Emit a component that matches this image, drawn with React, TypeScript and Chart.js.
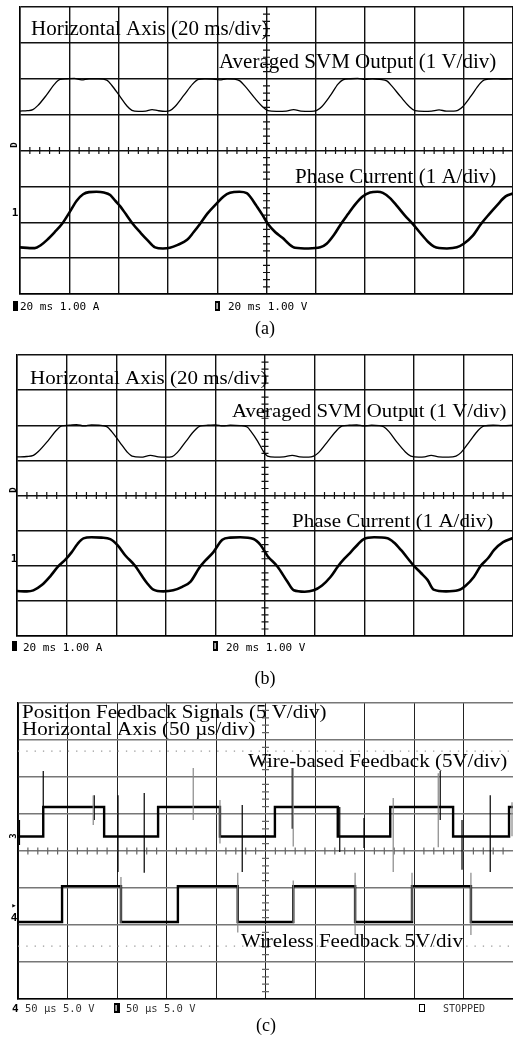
import React, { useEffect, useRef } from "react";
import { Chart, registerables } from "chart.js";
Chart.register(...registerables);

// ---------------- data (all values in scope divisions) ----------------
const xDivs = [0, 10];
const yDivs = [-4, 4];

// panel (a)
const svmA: [number, number][] = [
  [0, 1.1], [0.15, 1.11], [0.26, 1.14], [0.36, 1.25], [0.54, 1.55], [0.7, 1.85], [0.81, 1.98], [0.95, 2.0], [1.1, 2.01], [1.25, 1.97], [1.4, 2.0], [1.6, 2.0], [1.76, 1.96],
  [1.86, 1.82], [2.02, 1.52], [2.17, 1.24], [2.27, 1.12], [2.4, 1.09], [2.55, 1.1], [2.68, 1.14], [2.8, 1.11], [2.95, 1.09], [3.04, 1.11],
  [3.14, 1.22], [3.33, 1.55], [3.5, 1.85], [3.62, 1.98], [3.75, 2.0], [3.9, 1.99], [4.05, 1.97], [4.2, 2.0], [4.35, 1.99], [4.46, 1.94],
  [4.56, 1.8], [4.75, 1.48], [4.92, 1.22], [5.03, 1.11], [5.2, 1.09], [5.4, 1.1], [5.55, 1.14], [5.7, 1.1], [5.9, 1.09], [6.02, 1.12],
  [6.12, 1.22], [6.29, 1.52], [6.45, 1.85], [6.55, 1.97], [6.7, 2.0], [6.85, 2.01], [7.0, 1.98], [7.15, 2.0], [7.3, 1.98], [7.44, 1.94],
  [7.54, 1.8], [7.72, 1.5], [7.9, 1.22], [8.01, 1.11], [8.2, 1.09], [8.35, 1.1], [8.5, 1.13], [8.65, 1.1], [8.8, 1.1], [8.88, 1.12],
  [8.98, 1.22], [9.15, 1.52], [9.32, 1.85], [9.42, 1.97], [9.6, 2.0], [9.8, 1.99], [10, 2.0],
];
const curA: [number, number][] = [
  [0, -2.7], [0.2, -2.72], [0.3, -2.72], [0.42, -2.64], [0.55, -2.49], [0.7, -2.28], [0.85, -2.05], [1.01, -1.71], [1.15, -1.4], [1.28, -1.22],
  [1.4, -1.16], [1.55, -1.15], [1.7, -1.17], [1.83, -1.24], [1.93, -1.4], [2.03, -1.55], [2.15, -1.78], [2.29, -2.05], [2.45, -2.3], [2.58, -2.49],
  [2.74, -2.7], [2.9, -2.73], [3.04, -2.71], [3.2, -2.63], [3.39, -2.49], [3.52, -2.28], [3.65, -2.05], [3.8, -1.76], [4.0, -1.46], [4.13, -1.28],
  [4.26, -1.18], [4.45, -1.15], [4.6, -1.19], [4.67, -1.29], [4.8, -1.55], [4.92, -1.8], [5.03, -2.05], [5.18, -2.28], [5.33, -2.44], [5.45, -2.6],
  [5.58, -2.71], [5.85, -2.73], [6.09, -2.7], [6.22, -2.6], [6.37, -2.35], [6.51, -2.05], [6.65, -1.78], [6.8, -1.5], [6.95, -1.28], [7.1, -1.17],
  [7.25, -1.15], [7.36, -1.18], [7.5, -1.32], [7.65, -1.55], [7.8, -1.8], [7.97, -2.05], [8.12, -2.3], [8.28, -2.55], [8.4, -2.68], [8.5, -2.72],
  [8.66, -2.73], [8.86, -2.7], [9.0, -2.6], [9.18, -2.38], [9.35, -2.05], [9.5, -1.8], [9.68, -1.52], [9.85, -1.28], [10, -1.2],
];

// panel (b)
const svmB: [number, number][] = [
  [0, 1.1], [0.2, 1.11], [0.33, 1.14], [0.43, 1.25], [0.62, 1.55], [0.79, 1.85], [0.9, 1.98], [1.05, 2.0], [1.2, 2.02], [1.35, 1.98], [1.5, 2.01], [1.65, 2.0], [1.81, 1.96],
  [1.91, 1.82], [2.07, 1.52], [2.22, 1.24], [2.32, 1.12], [2.5, 1.09], [2.69, 1.14], [2.85, 1.1], [3.0, 1.09], [3.13, 1.11],
  [3.23, 1.22], [3.41, 1.55], [3.58, 1.85], [3.7, 1.98], [3.85, 2.0], [4.0, 2.01], [4.15, 1.98], [4.3, 2.0], [4.5, 1.99], [4.64, 1.95],
  [4.72, 1.82], [4.85, 1.55], [4.97, 1.25], [5.05, 1.12], [5.2, 1.09], [5.38, 1.1], [5.55, 1.14], [5.7, 1.1], [5.88, 1.09], [5.98, 1.12],
  [6.08, 1.22], [6.27, 1.55], [6.45, 1.86], [6.56, 1.98], [6.7, 2.0], [6.85, 2.01], [7.0, 1.98], [7.15, 2.0], [7.3, 1.99], [7.4, 1.95],
  [7.5, 1.82], [7.66, 1.52], [7.83, 1.24], [7.94, 1.12], [8.1, 1.09], [8.22, 1.1], [8.35, 1.14], [8.5, 1.1], [8.7, 1.09], [8.85, 1.12],
  [8.95, 1.22], [9.13, 1.55], [9.3, 1.86], [9.42, 1.98], [9.6, 2.0], [9.8, 1.99], [10, 2.0],
];
const curB: [number, number][] = [
  [0, -2.72], [0.2, -2.73], [0.33, -2.7], [0.5, -2.55], [0.67, -2.3], [0.83, -2.02], [0.98, -1.82], [1.1, -1.62], [1.22, -1.38], [1.34, -1.22],
  [1.5, -1.19], [1.7, -1.2], [1.88, -1.24], [2.03, -1.42], [2.18, -1.7], [2.38, -2.0], [2.5, -2.25], [2.62, -2.49], [2.75, -2.68], [2.95, -2.73],
  [3.15, -2.7], [3.33, -2.6], [3.5, -2.45], [3.68, -2.05], [3.8, -1.85], [3.96, -1.61], [4.14, -1.26], [4.3, -1.2], [4.5, -1.19], [4.77, -1.24],
  [4.91, -1.41], [5.05, -1.72], [5.25, -2.02], [5.45, -2.45], [5.58, -2.7], [5.8, -2.74], [5.98, -2.7], [6.15, -2.56], [6.32, -2.32], [6.48, -2.0],
  [6.6, -1.8], [6.73, -1.61], [6.88, -1.38], [6.99, -1.24], [7.2, -1.19], [7.47, -1.22], [7.6, -1.34], [7.74, -1.55], [8.0, -2.0], [8.14, -2.2],
  [8.28, -2.41], [8.4, -2.68], [8.65, -2.73], [8.89, -2.7], [9.05, -2.56], [9.21, -2.32], [9.35, -2.0], [9.5, -1.78], [9.62, -1.55], [9.8, -1.33], [10, -1.21],
];

// panel (c)
const wireEdges = [0.51, 1.74, 2.83, 4.08, 5.19, 6.46, 7.52, 8.79, 9.92];
const wireLevels = [0.39, 1.19]; // low, high
const wirelessEdges = [0.89, 2.08, 3.23, 4.44, 5.56, 6.81, 7.96, 9.15];
const wirelessLevels = [-1.92, -0.95]; // low, high
const wireSpikes: [number, number, number][] = [
  [0.03, 0.84, 0.16], [0.51, 2.16, 0.39], [1.54, 1.51, 0.84], [2.02, 1.51, -0.57], [2.55, 1.57, -0.59], [4.53, 1.24, -0.57],
  [5.54, 2.24, 0.6], [6.5, 1.19, -0.03], [6.99, 0.89, 0.08], [8.53, 2.16, 0.84], [8.97, 0.84, -0.51], [9.54, 1.51, -0.57],
];
const wireGreySpikes: [number, number, number][] = [
  [1.52, 1.5, 0.7], [3.54, 2.24, 0.84], [4.08, 1.38, 0.2], [5.56, 2.24, 0.12], [7.58, 1.43, -0.57], [8.49, 2.1, 0.1], [9.98, 1.32, 0.4],
];
const wirelessSpikes: [number, number, number][] = [
  [2.08, -0.7, -1.95], [4.44, -0.59, -2.2], [5.56, -0.8, -1.95], [6.81, -0.59, -2.27], [7.96, -0.59, -1.9], [9.15, -0.59, -2.27],
];
const dottedLevels = [2.7, -2.57];

// ---------------- helpers ----------------
type P = { x: number; y: number | null };
const toXY = (pts: [number, number][]): P[] => pts.map(([x, y]) => ({ x, y }));
const stepXY = (edges: number[], levels: number[]): P[] => {
  let k = 0;
  const out: P[] = [{ x: xDivs[0], y: levels[k] }];
  for (const e of edges) {
    out.push({ x: e, y: levels[k] });
    k = 1 - k;
    out.push({ x: e, y: levels[k] });
  }
  out.push({ x: xDivs[1], y: levels[k] });
  return out;
};
const spikeXY = (sp: [number, number, number][]): P[] =>
  sp.flatMap(([x, t, b]) => [{ x, y: t }, { x, y: b }, { x, y: null }]);
const hLine = (v: number): P[] => [{ x: xDivs[0], y: v }, { x: xDivs[1], y: v }];

type T = {
  t: string; x: number; y: number; font: string; color?: string; sx?: number; sy?: number;
  align?: CanvasTextAlign; base?: CanvasTextBaseline; rot?: number;
};
type R = { x: number; y: number; w: number; h: number; fill: boolean; inner?: boolean };

const SERIF = '"Liberation Serif", "Times New Roman", serif';
const MONO = '"DejaVu Sans Mono", monospace';

function ScopePanel(props: {
  top: number; height: number; pad: { left: number; top: number; right: number; bottom: number };
  datasets: any[]; texts: T[]; rects: R[];
  xGrid: { color: string; width: number }; yGrid: { color: string; width: number }; tickColor: string;
}) {
  const ref = useRef<HTMLCanvasElement>(null);
  useEffect(() => {
    const c = ref.current!;
    const { top, texts, rects, tickColor } = props;
    const chart = new Chart(c, {
      type: "line",
      data: { datasets: props.datasets },
      options: {
        animation: false,
        responsive: false,
        devicePixelRatio: 1,
        layout: { padding: props.pad },
        plugins: { legend: { display: false }, tooltip: { enabled: false }, title: { display: false } },
        elements: { point: { radius: 0 } },
        scales: {
          x: {
            type: "linear", min: xDivs[0], max: xDivs[1],
            ticks: { stepSize: 1, display: false },
            grid: { color: props.xGrid.color, lineWidth: props.xGrid.width, drawTicks: false },
            border: { display: true, color: "#000", width: 1.5 },
          },
          y: {
            type: "linear", min: yDivs[0], max: yDivs[1],
            ticks: { stepSize: 1, display: false },
            grid: { color: props.yGrid.color, lineWidth: props.yGrid.width, drawTicks: false },
            border: { display: true, color: "#000", width: 1.5 },
          },
        },
      },
      plugins: [
        {
          id: "scope",
          beforeDatasetsDraw(ch: any) {
            const ctx = ch.ctx as CanvasRenderingContext2D;
            const xs = ch.scales.x, ys = ch.scales.y;
            const cx = xs.getPixelForValue(5), cy = ys.getPixelForValue(0);
            ctx.save();
            ctx.strokeStyle = tickColor;
            ctx.lineWidth = 1.2;
            ctx.beginPath();
            for (let i = 1; i < 50; i++) {
              if (i % 5 === 0) continue;
              const px = xs.getPixelForValue(i * 0.2);
              ctx.moveTo(px, cy - 3.5); ctx.lineTo(px, cy + 3.5);
            }
            for (let i = 1; i < 40; i++) {
              if (i % 5 === 0) continue;
              const py = ys.getPixelForValue(-4 + i * 0.2);
              ctx.moveTo(cx - 3.5, py); ctx.lineTo(cx + 3.5, py);
            }
            ctx.stroke();
            ctx.restore();
          },
          afterDatasetsDraw(ch: any) {
            const ctx = ch.ctx as CanvasRenderingContext2D;
            ctx.save();
            for (const r of rects) {
              if (r.fill) {
                ctx.fillStyle = "#000";
                ctx.fillRect(r.x, r.y - top, r.w, r.h);
                if (r.inner) {
                  ctx.fillStyle = "#fff";
                  ctx.fillRect(r.x + 1.5, r.y - top + 2, 1.2, r.h - 4);
                }
              } else {
                ctx.strokeStyle = "#000";
                ctx.lineWidth = 1;
                ctx.strokeRect(r.x + 0.5, r.y - top + 0.5, r.w, r.h);
              }
            }
            for (const s of texts) {
              ctx.save();
              ctx.translate(s.x, s.y - top);
              if (s.rot) ctx.rotate(s.rot);
              ctx.scale(s.sx ?? 1, s.sy ?? 1);
              ctx.font = s.font;
              ctx.fillStyle = s.color ?? "#000";
              ctx.textAlign = s.align ?? "left";
              ctx.textBaseline = s.base ?? "alphabetic";
              ctx.fillText(s.t, 0, 0);
              ctx.restore();
            }
            ctx.restore();
          },
        },
      ],
    } as any);
    return () => chart.destroy();
  }, []);
  return (
    <canvas
      ref={ref}
      width={513}
      height={props.height}
      style={{ position: "absolute", left: 0, top: props.top, width: 513, height: props.height }}
    />
  );
}

const wave = (data: P[], width: number) => ({
  data, borderColor: "#000", borderWidth: width, pointRadius: 0, fill: false,
  cubicInterpolationMode: "monotone" as const, spanGaps: false,
});
const straight = (data: P[], width: number, color: string, dash?: number[]) => ({
  data, borderColor: color, borderWidth: width, pointRadius: 0, fill: false, tension: 0,
  spanGaps: false, borderDash: dash ?? [],
});

export default function App() {
  const textA: T[] = [
    { t: "Horizontal Axis (20 ms/div)", x: 31, y: 35, font: `21px ${SERIF}` },
    { t: "Averaged SVM Output (1 V/div)", x: 219, y: 68, font: `21px ${SERIF}` },
    { t: "Phase Current (1 A/div)", x: 295, y: 183, font: `21px ${SERIF}` },
    { t: "20 ms 1.00 A", x: 20, y: 310, font: `11px ${MONO}` },
    { t: "20 ms 1.00 V", x: 228, y: 310, font: `11px ${MONO}` },
    { t: "(a)", x: 265, y: 329, font: `18px ${SERIF}`, align: "center", base: "middle" },
    { t: "D", x: 19, y: 145, font: `bold 9px ${MONO}`, rot: -Math.PI / 2, align: "center", base: "bottom" },
    { t: "1", x: 15, y: 213, font: `bold 11px ${MONO}`, align: "center", base: "middle" },
  ];
  const rectA: R[] = [
    { x: 13, y: 301, w: 5, h: 10, fill: true },
    { x: 215, y: 301, w: 5, h: 10, fill: true, inner: true },
  ];
  const textB: T[] = [
    { t: "Horizontal Axis (20 ms/div)", x: 30, y: 384, font: `21px ${SERIF}`, sy: 0.9 },
    { t: "Averaged SVM Output (1 V/div)", x: 232, y: 417, font: `21px ${SERIF}`, sx: 0.99, sy: 0.9 },
    { t: "Phase Current (1 A/div)", x: 292, y: 527, font: `21px ${SERIF}`, sy: 0.9 },
    { t: "20 ms 1.00 A", x: 23, y: 651, font: `11px ${MONO}` },
    { t: "20 ms 1.00 V", x: 226, y: 651, font: `11px ${MONO}` },
    { t: "(b)", x: 265, y: 679, font: `18px ${SERIF}`, align: "center", base: "middle" },
    { t: "D", x: 18, y: 490, font: `bold 9px ${MONO}`, rot: -Math.PI / 2, align: "center", base: "bottom" },
    { t: "1", x: 14, y: 559, font: `bold 11px ${MONO}`, align: "center", base: "middle" },
  ];
  const rectB: R[] = [
    { x: 12, y: 641, w: 5, h: 10, fill: true },
    { x: 213, y: 641, w: 5, h: 10, fill: true, inner: true },
  ];
  const textC: T[] = [
    { t: "Position Feedback Signals (5 V/div)", x: 22, y: 718, font: `21px ${SERIF}`, sy: 0.86 },
    { t: "Horizontal Axis (50 \u00b5s/div)", x: 22, y: 735, font: `21px ${SERIF}`, sy: 0.86 },
    { t: "Wire-based Feedback (5V/div)", x: 248, y: 767, font: `21px ${SERIF}`, sy: 0.86 },
    { t: "Wireless Feedback 5V/div", x: 241, y: 947, font: `21px ${SERIF}`, sy: 0.86 },
    { t: "4", x: 12, y: 1012, font: `bold 11px ${MONO}` },
    { t: "50 \u00b5s 5.0 V", x: 25, y: 1012, font: `10.5px ${MONO}`, color: "#333" },
    { t: "50 \u00b5s 5.0 V", x: 126, y: 1012, font: `10.5px ${MONO}`, color: "#333" },
    { t: "STOPPED", x: 443, y: 1012, font: `10px ${MONO}`, color: "#333" },
    { t: "(c)", x: 266, y: 1026, font: `18px ${SERIF}`, align: "center", base: "middle" },
    { t: "3", x: 18, y: 836, font: `bold 9px ${MONO}`, rot: -Math.PI / 2, align: "center", base: "bottom" },
    { t: "4", x: 14, y: 918, font: `bold 11px ${MONO}`, align: "center", base: "middle" },
    { t: "\u25b8", x: 14, y: 906, font: `9px ${MONO}`, align: "center", base: "middle" },
  ];
  const rectC: R[] = [
    { x: 114, y: 1003, w: 6, h: 10, fill: true, inner: true },
    { x: 419, y: 1004, w: 5, h: 7, fill: false },
  ];

  return (
    <div style={{ position: "absolute", left: 0, top: 0, width: 513, height: 1038, overflow: "hidden", background: "#fff" }}>
      <ScopePanel
        top={0} height={345}
        pad={{ left: 20, top: 7, right: 0, bottom: 51 }}
        xGrid={{ color: "#111", width: 1.4 }} yGrid={{ color: "#111", width: 1.4 }} tickColor="#111"
        texts={textA} rects={rectA}
        datasets={[wave(toXY(svmA), 1.3), wave(toXY(curA), 2.6)]}
      />
      <ScopePanel
        top={345} height={350}
        pad={{ left: 17, top: 10, right: 0, bottom: 59 }}
        xGrid={{ color: "#111", width: 1.4 }} yGrid={{ color: "#111", width: 1.4 }} tickColor="#111"
        texts={textB} rects={rectB}
        datasets={[wave(toXY(svmB), 1.3), wave(toXY(curB), 2.6)]}
      />
      <ScopePanel
        top={695} height={343}
        pad={{ left: 18, top: 8, right: 0, bottom: 39 }}
        xGrid={{ color: "#222", width: 1 }} yGrid={{ color: "#777", width: 1.4 }} tickColor="#666"
        texts={textC} rects={rectC}
        datasets={[
          ...dottedLevels.map((v) => straight(hLine(v), 1.3, "#999", [1.3, 7])),
          straight(spikeXY(wireGreySpikes), 1.2, "#888"),
          straight(spikeXY(wirelessSpikes), 1.2, "#888"),
          straight(spikeXY(wireSpikes), 1.2, "#000"),
          straight(stepXY(wireEdges, wireLevels), 2.4, "#000"),
          straight(stepXY(wirelessEdges, wirelessLevels), 2.4, "#000"),
        ]}
      />
    </div>
  );
}
